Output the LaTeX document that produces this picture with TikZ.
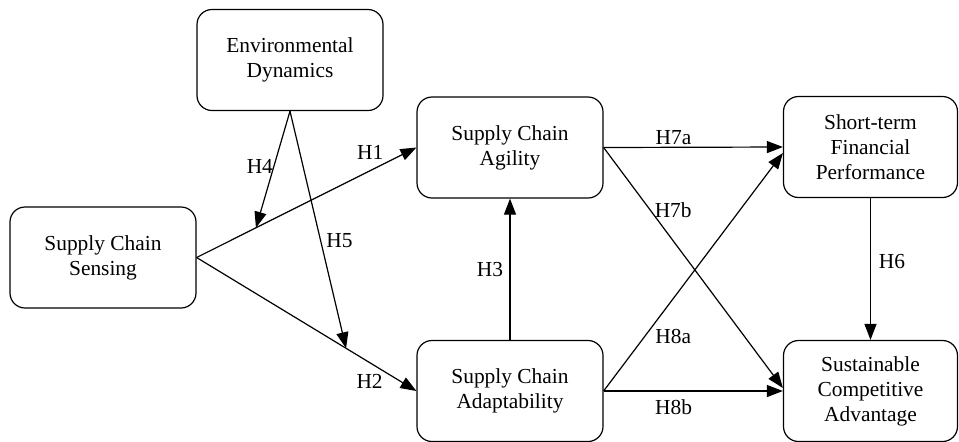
\documentclass[tikz,border=0pt]{standalone}
\usepackage{fontspec}
\setmainfont{Liberation Serif}
\usetikzlibrary{arrows.meta, calc}

\begin{document}
\begin{tikzpicture}[
  x=0.5pt, y=-0.5pt,
  font=\fontsize{10.7}{12.5}\selectfont,
  var/.style={rectangle, draw, rounded corners=7.5pt, line width=0.6pt,
    minimum width=93pt, minimum height=50.5pt, align=center, inner sep=1pt},
  lbl/.style={inner sep=0pt},
  arr/.style={-{Triangle[length=8pt, width=6pt]}, line width=0.6pt}
]
\useasboundingbox (0,0) rectangle (959,441);

\node[var] (envdyn) at (290,60) {Environmental\\Dynamics};
\node[var] (sensing) at (103,257.5) {Supply Chain\\Sensing};
\node[var] (agility) at (510,147.5) {Supply Chain\\Agility};
\node[var] (adapt) at (510,391) {Supply Chain\\Adaptability};
\node[var, minimum width=87pt] (stfp) at (870.5,147) {Short-term\\Financial\\Performance};
\node[var, minimum width=87pt] (sca) at (870.5,391) {Sustainable\\Competitive\\Advantage};

% direct paths
\draw[arr] (sensing.east) -- (agility.west) node[lbl, pos=0.79, yshift=9pt] (h1) {H1};
\draw[arr] (sensing.east) -- (adapt.west) node[lbl, pos=0.787, yshift=-9.5pt] (h2) {H2};
\draw[arr] (adapt.north) -- (agility.south) node[lbl, midway, xshift=-10pt] (h3) {H3};

% moderation onto H1 / H2
\coordinate (m4) at ($(sensing.east)!0.27!(agility.west)$);
\coordinate (m5) at ($(sensing.east)!0.68!(adapt.west)$);
\draw[arr] (envdyn.south) -- (m4) node[lbl, pos=0.474, xshift=-7pt] (h4) {H4};
\draw[arr] (envdyn.south) -- (m5) node[lbl, pos=0.544, xshift=9.5pt] (h5) {H5};

% outcomes
\draw[arr] (stfp.south) -- (sca.north) node[lbl, pos=0.45, xshift=10.75pt] (h6) {H6};
\draw[arr] (agility.east) -- (stfp.west) node[lbl, pos=0.39, yshift=5pt] (h7a) {H7a};
\draw[arr] (agility.east) -- ([yshift=1.5pt]sca.west) node[lbl, pos=0.26, xshift=11.5pt] (h7b) {H7b};
\draw[arr] (adapt.east) -- ([yshift=-3pt]stfp.west) node[lbl, pos=0.227, xshift=14.5pt] (h8a) {H8a};
\draw[arr] (adapt.east) -- (sca.west) node[lbl, pos=0.39, yshift=-8pt] (h8b) {H8b};
\end{tikzpicture}
\end{document}
